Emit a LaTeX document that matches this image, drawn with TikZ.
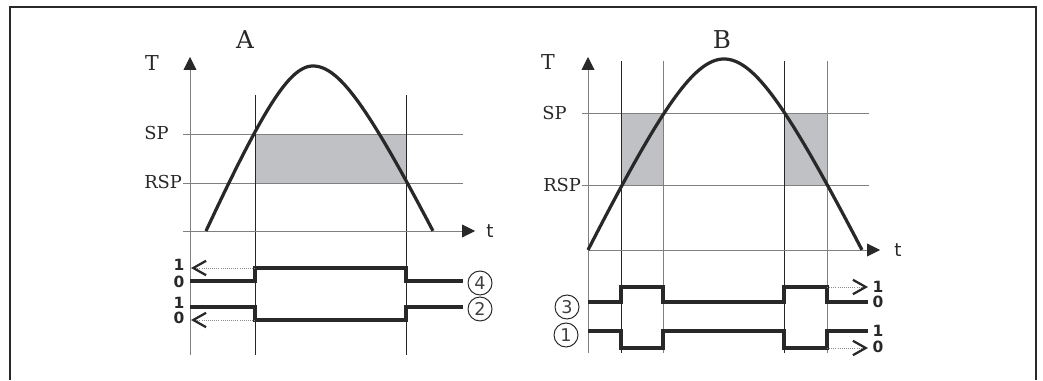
\documentclass[tikz,border=0pt]{standalone}
\usepackage{fontspec}
\newfontfamily\numfont{DejaVu Sans}
\newfontfamily\labfont{DejaVu Serif}
\usetikzlibrary{arrows.meta}
\definecolor{shadegray}{RGB}{192,193,196}
\definecolor{inkgray}{RGB}{40,40,40}
\tikzset{
  grid line/.style={line width=0.6pt,draw=black!50},
  time line/.style={line width=0.6pt,draw=black!85},
  axis/.style={line width=0.6pt,draw=black!50,-{Triangle[length=3.2mm,width=3.2mm,color=inkgray]}},
  curve/.style={line width=2.3pt,draw=inkgray,line join=round},
  signal/.style={line width=2.4pt,draw=inkgray},
  level/.style={densely dotted,draw=black!45,line width=0.5pt,-{Straight Barb[length=3.2mm,width=3.6mm,line width=1.6pt,color=inkgray]}},
  bit/.style={font=\numfont\bfseries\fontsize{11}{11}\selectfont,inner sep=0pt,text=inkgray},
  tag/.style={draw=inkgray,circle,minimum size=6mm,inner sep=0pt,line width=0.7pt,font=\numfont\fontsize{12.5}{12.5}\selectfont,text=black!75},
  lab/.style={font=\labfont\fontsize{12.7}{12.7}\selectfont,inner sep=0pt,anchor=west,text=inkgray},
  title/.style={font=\labfont\fontsize{17.5}{17.5}\selectfont,text=inkgray},
}
% rounded hump profile, 0 at the top, 1 at the base
\tikzset{declare function={hump(\u)=(sqrt(\u*\u+0.1764)-0.42)/0.6646;}}
\begin{document}
\begin{tikzpicture}[x=0.25cm,y=0.25cm]
\useasboundingbox (0,0) rectangle (104.3,38);
\draw[line width=1.1pt,draw=inkgray] (1.0,0) -- (1.0,37.3) -- (103.6,37.3) -- (103.6,0);

% panel A
\fill[shadegray] (25.5,19.7) rectangle (40.6,24.6);
\draw[grid line] (18.3,24.6) -- (46.3,24.6);
\draw[grid line] (18.3,19.7) -- (46.3,19.7);
\draw[time line] (25.5,2.5) -- (25.5,28.5);
\draw[time line] (40.6,2.5) -- (40.6,28.5);
\draw[axis] (19.0,2.5) -- (19.0,32.3);
\draw[axis] (18.3,14.9) -- (47.5,14.9);
\draw[curve] plot[domain=-1:0,samples=60,variable=\u] ({31.3+10.7*\u},{14.9+16.5*(1-hump(\u))})
  -- plot[domain=0:1,samples=60,variable=\u] ({31.3+12.0*\u},{14.9+16.5*(1-hump(\u))});
\node[title] (titleA) at (24.5,34.0) {A};
\node[title,font=\labfont\fontsize{14.6}{14.6}\selectfont] (tempA) at (15.2,31.7) {T};
\node[lab] (spA) at (14.4,24.7) {SP};
\node[lab] (rspA) at (14.4,19.8) {RSP};
\node[font=\numfont\fontsize{13}{13}\selectfont,text=inkgray] (timeA) at (49.0,14.9) {t};

\draw[signal] (19.0,9.9) -- (25.5,9.9) -- (25.5,11.2) -- (40.6,11.2) -- (40.6,9.9) -- (46.3,9.9);
\draw[signal] (19.0,7.3) -- (25.5,7.3) -- (25.5,6.0) -- (40.6,6.0) -- (40.6,7.3) -- (46.3,7.3);
\draw[level] (25.5,11.2) -- (19.1,11.2);
\draw[level] (25.5,6.0) -- (19.1,6.0);
\node[bit] (hiA4) at (17.9,11.5) {1};
\node[bit] (loA4) at (17.9,9.8) {0};
\node[bit] (hiA2) at (17.9,7.7) {1};
\node[bit] (loA2) at (17.9,6.2) {0};
\node[tag] (out4) at (48.0,9.7) {4};
\node[tag] (out2) at (48.0,7.1) {2};

% panel B
\fill[shadegray] (62.1,19.5) rectangle (66.3,26.7);
\fill[shadegray] (78.4,19.5) rectangle (82.7,26.7);
\draw[grid line] (58.2,26.7) -- (86.9,26.7);
\draw[grid line] (58.2,19.5) -- (86.9,19.5);
\draw[time line] (62.1,2.7) -- (62.1,31.9);
\draw[grid line] (66.3,2.7) -- (66.3,31.9);
\draw[time line] (78.4,2.7) -- (78.4,31.9);
\draw[grid line] (82.7,2.7) -- (82.7,31.9);
\draw[axis] (58.8,2.7) -- (58.8,32.3);
\draw[axis] (58.8,13.0) -- (88.0,13.0);
\draw[curve] plot[domain=-1:0,samples=60,variable=\u] ({72.4+13.6*\u},{13.0+19.1*(1-hump(\u))})
  -- plot[domain=0:1,samples=60,variable=\u] ({72.4+13.8*\u},{13.0+19.1*(1-hump(\u))});
\node[title] (titleB) at (72.2,34.0) {B};
\node[title,font=\labfont\fontsize{14.6}{14.6}\selectfont] (tempB) at (54.8,31.8) {T};
\node[lab] (spB) at (54.2,26.7) {SP};
\node[lab] (rspB) at (54.3,19.5) {RSP};
\node[font=\numfont\fontsize{13}{13}\selectfont,text=inkgray] (timeB) at (89.8,13.0) {t};

\draw[signal] (58.8,7.8) -- (62.1,7.8) -- (62.1,9.3) -- (66.3,9.3) -- (66.3,7.8) -- (78.4,7.8) -- (78.4,9.3) -- (82.7,9.3) -- (82.7,7.8) -- (86.8,7.8);
\draw[signal] (58.8,4.9) -- (62.1,4.9) -- (62.1,3.2) -- (66.3,3.2) -- (66.3,4.9) -- (78.4,4.9) -- (78.4,3.2) -- (82.7,3.2) -- (82.7,4.9) -- (86.8,4.9);
\draw[level] (82.7,9.3) -- (86.8,9.3);
\draw[level] (82.7,3.2) -- (86.8,3.2);
\node[bit] (hiB3) at (87.8,9.3) {1};
\node[bit] (loB3) at (87.8,7.8) {0};
\node[bit] (hiB1) at (87.8,4.9) {1};
\node[bit] (loB1) at (87.8,3.3) {0};
\node[tag] (out3) at (56.7,7.3) {3};
\node[tag] (out1) at (56.6,4.5) {1};
\end{tikzpicture}
\end{document}
